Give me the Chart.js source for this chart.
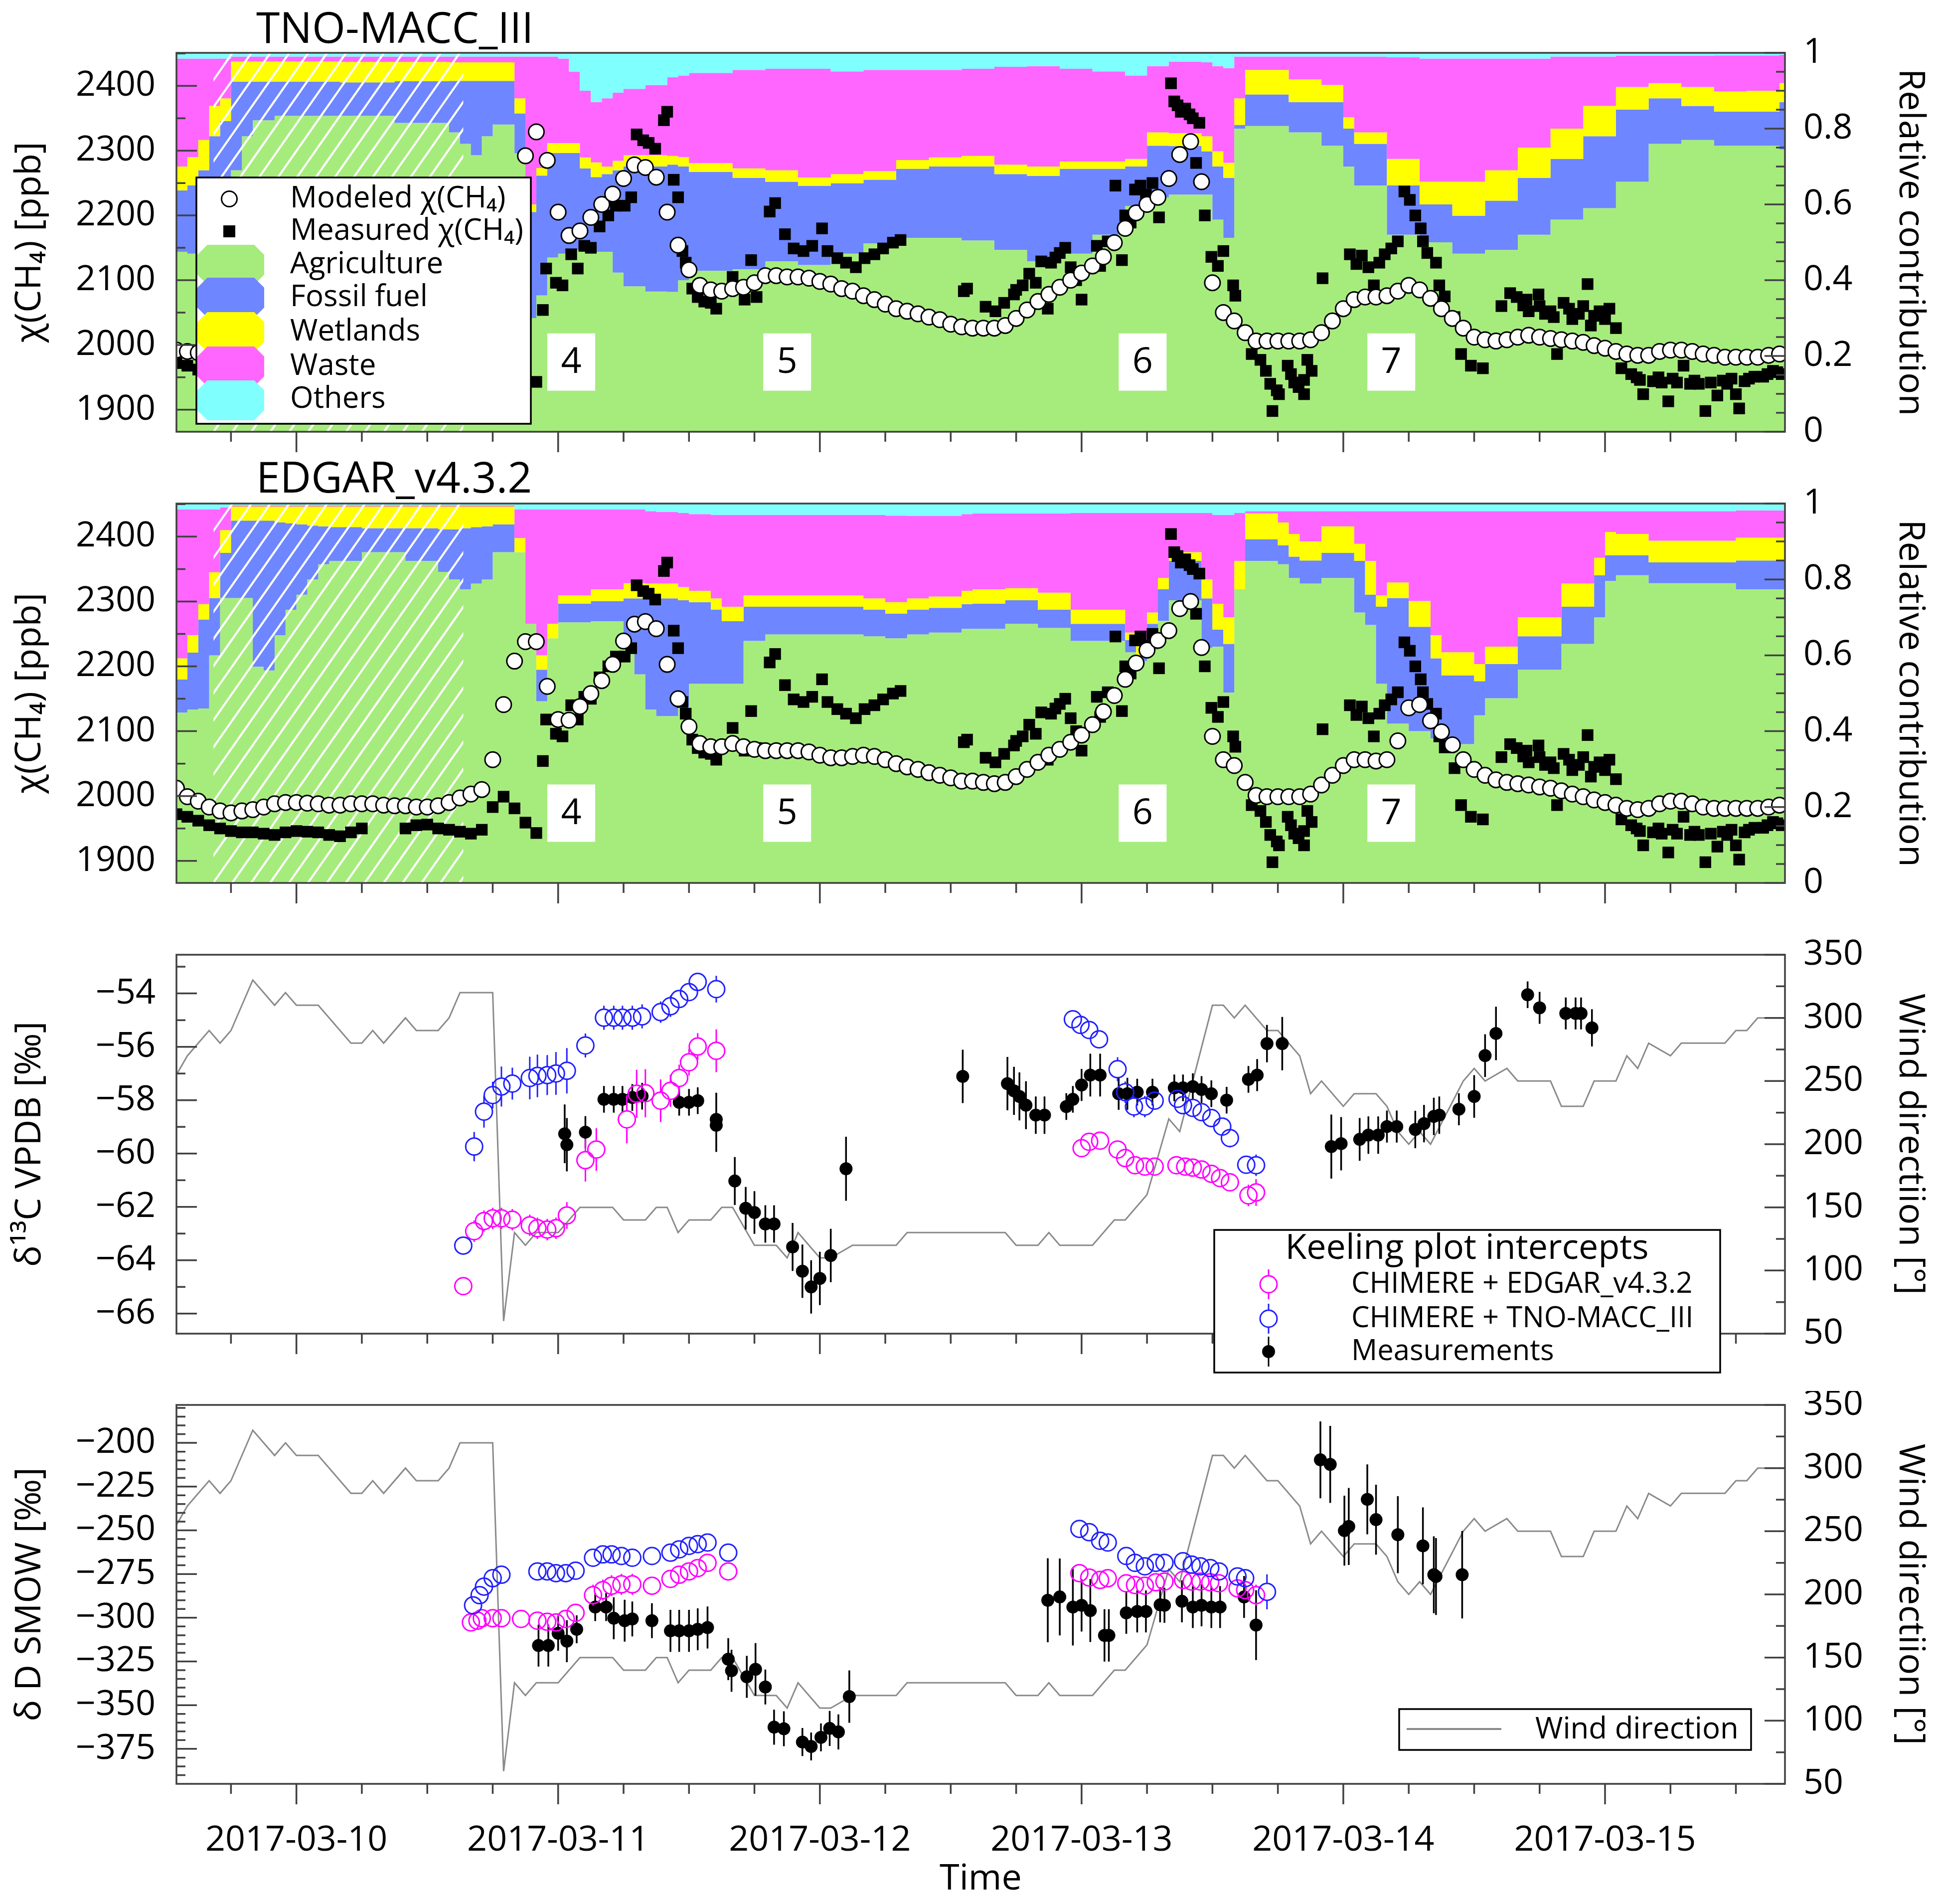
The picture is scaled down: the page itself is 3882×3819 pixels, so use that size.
<!DOCTYPE html>
<html><head><meta charset="utf-8">
<script src="https://cdn.jsdelivr.net/npm/chart.js@4.4.1/dist/chart.umd.min.js"></script>
<style>
html,body{margin:0;padding:0;background:#fff;}
body{width:3882px;height:3819px;position:relative;overflow:hidden;}
canvas{position:absolute;left:0;}
</style></head><body>
<canvas id="c1"></canvas><canvas id="c2"></canvas><canvas id="c3"></canvas><canvas id="c4"></canvas>
<script>
// ================= DATA (hours since 2017-03-10 00:00) =================
const dateLabels = ['2017-03-10','2017-03-11','2017-03-12','2017-03-13','2017-03-14','2017-03-15'];
const dateHours  = [0,24,48,72,96,120];
const timeRange  = [-11, 136.5];
const gapHours   = [-7.6, 15.3];           // hatched period (no isotope data)
const periodLabels = ['4','5','6','7'];
const periodHours  = [25.2, 45.0, 77.6, 100.4];
const periodLabelCH4 = 1974;

// --- measured χ(CH4) [ppb] (same in both top panels)
const measHours = [-11,-10,-9,-8,-7,-6,-5,-4,-3,-2,-1,0,1,2,3,4,5,6,10,11,12,13,14,15,16,17,18,19,20,21,22,
 22.6,22.9,23.8,24.4,25.2,25.8,26.4,27.0,27.8,28.6,29.3,30.1,30.7,31.2,31.8,32.3,32.9,33.7,34.0,34.6,35.0,35.4,35.7,36.3,36.8,37.4,38.0,38.5,40.0,41.1,41.7,42.2,43.4,43.9,44.8,45.6,46.5,47.3,48.2,48.7,49.6,50.4,51.3,52.1,53.0,53.8,54.7,55.4,61.2,
 61.5,63.2,64.1,64.9,65.8,66.0,66.6,67.2,67.8,68.3,68.9,69.2,69.6,70.0,70.5,71.0,71.5,72.0,73.4,73.7,74.4,75.1,75.7,76.0,76.5,76.9,77.4,77.9,78.5,79.1,
 80.2,80.5,80.8,81.1,81.5,81.9,82.2,82.5,82.8,83.3,83.9,84.5,85.0,85.9,86.1,87.6,88.4,88.9,89.3,89.5,89.9,90.1,90.9,91.2,91.5,91.9,92.4,92.4,92.7,93.1,94.1,
 96.6,97.2,97.7,98.3,98.8,99.3,99.8,100.4,101.0,101.6,102.1,102.6,103.1,103.3,103.7,104.5,104.8,105.3,106.2,106.8,107.7,108.8,
 110.5,111.3,111.9,112.5,112.8,113.0,113.9,114.0,114.5,115.0,115.3,115.6,116.2,116.7,117.0,117.6,118.0,118.4,118.7,119.0,119.5,120.0,120.4,121.0,121.5,
 122.4,122.9,123.2,123.5,124.4,124.9,125.2,125.8,126.2,126.6,127.2,127.8,128.2,128.6,129.2,129.7,130.3,130.8,131.2,131.6,132.0,132.3,132.8,133.2,133.7,134.5,134.9,135.4,135.8,136.2];
const measCH4 = [1972,1968,1962,1955,1950,1946,1944,1944,1942,1940,1944,1946,1945,1944,1940,1938,1944,1950,1950,1955,1956,1950,1948,1945,1942,1948,1983,1999,1981,1959,1943,
 2054,2118,2096,2092,2140,2118,2153,2150,2183,2200,2215,2215,2228,2325,2316,2312,2303,2347,2360,2255,2228,2145,2127,2087,2074,2067,2065,2056,2105,2070,2131,2074,2206,2219,2171,2149,2145,2153,2180,2145,2134,2127,2120,2134,2140,2149,2158,2162,2083,
 2087,2059,2052,2065,2078,2085,2092,2110,2096,2129,2056,2127,2135,2142,2150,2120,2100,2070,2153,2122,2160,2246,2131,2200,2189,2240,2246,2232,2250,2197,
 2404,2376,2370,2360,2365,2356,2350,2281,2343,2200,2136,2122,2145,2092,2076,1986,1977,1960,1940,1898,1930,1924,1968,1955,1942,1935,1946,1924,1977,1960,2103,
 2140,2125,2138,2120,2092,2127,2140,2149,2160,2237,2224,2200,2180,2160,2142,2127,2092,2075,2043,1986,1968,1964,
 2060,2080,2074,2061,2070,2052,2078,2060,2048,2052,2043,1986,2065,2056,2040,2048,2060,2094,2030,2045,2052,2040,2056,2026,1964,
 1955,1950,1946,1924,1944,1950,1942,1913,1948,1942,1968,1940,1945,1940,1898,1942,1922,1945,1940,1948,1924,1902,1944,1948,1951,1951,1955,1960,1958,1955];

// --- modeled χ(CH4), CHIMERE + TNO-MACC_III [ppb]
const tnoModelHours = [-11,-10,-9,21,22,23,24,25,26,27,28,29,30,31,32,33,34,35,36,37,38,39,40,41,42,43,44,45,46,47,48,49,50,51,52,53,54,55,56,57,58,59,60,
 61,62,63,64,65,66,67,68,69,70,71,72,73,74,75,76,77,78,79,80,81,82,83,84,85,86,87,88,89,90,91,92,93,94,95,96,97,98,99,100,
 101,102,103,104,105,106,107,108,109,110,111,112,113,114,115,116,117,118,119,120,121,122,123,124,125,126,127,128,129,130,131,132,133,134,135,136];
const tnoModelCH4 = [1992,1990,1988,2292,2329,2285,2205,2169,2176,2197,2217,2233,2257,2278,2274,2259,2205,2154,2116,2092,2085,2083,2087,2089,2096,2107,2107,2105,2105,2103,2098,2094,2087,2083,2076,2070,2063,2056,2052,2048,2043,2039,2032,
 2028,2026,2026,2026,2030,2041,2054,2067,2078,2089,2100,2111,2122,2136,2158,2180,2204,2217,2228,2257,2294,2314,2252,2096,2050,2037,2019,2006,2006,2006,2006,2006,2008,2019,2037,2056,2070,2074,2074,2076,
 2083,2092,2085,2072,2056,2041,2026,2012,2008,2006,2008,2012,2015,2012,2010,2008,2006,2004,1999,1995,1990,1986,1984,1984,1990,1992,1992,1990,1986,1984,1981,1981,1981,1981,1984,1986];

// --- modeled χ(CH4), CHIMERE + EDGAR_v4.3.2 [ppb]
const edgarModelHours = [-11,-10,-9,-8,-7,-6,-5,-4,-3,-2,-1,0,1,2,3,4,5,6,7,8,9,10,11,12,13,14,15,16,17,18,19,20,21,22,23,24,25,26,27,28,29,30,
 31,32,33,34,35,36,37,38,39,40,41,42,43,44,45,46,47,48,49,50,51,52,53,54,55,56,57,58,59,60,61,62,63,64,65,66,67,68,69,70,
 71,72,73,74,75,76,77,78,79,80,81,82,83,84,85,86,87,88,89,90,91,92,93,94,95,96,97,98,99,100,101,102,103,104,105,106,107,108,109,110,
 111,112,113,114,115,116,117,118,119,120,121,122,123,124,125,126,127,128,129,130,131,132,133,134,135,136];
const edgarModelCH4 = [2012,1999,1992,1983,1977,1974,1977,1979,1983,1988,1990,1990,1989,1988,1986,1986,1988,1988,1988,1986,1985,1985,1983,1983,1985,1990,1997,2003,2010,2056,2141,2208,2238,2238,2169,2118,2117,2138,2158,2178,2203,2239,
 2265,2269,2258,2203,2150,2107,2081,2076,2076,2081,2076,2072,2070,2070,2070,2070,2068,2063,2059,2059,2061,2063,2061,2056,2050,2045,2041,2036,2032,2028,2023,2023,2021,2019,2021,2030,2041,2052,2063,2072,
 2083,2094,2110,2130,2155,2180,2205,2225,2240,2255,2289,2300,2229,2092,2056,2047,2021,2001,1999,1999,1999,1999,2003,2017,2032,2047,2056,2056,2054,2056,2085,2136,2141,2116,2099,2079,2056,2041,2032,2025,
 2021,2019,2017,2014,2012,2008,2003,1999,1994,1990,1986,1981,1979,1981,1988,1992,1992,1988,1983,1981,1981,1981,1981,1981,1983,1986];

// --- relative contributions (cumulative stack tops), CHIMERE + TNO-MACC_III
const tnoAreaHours = [-11,-10,-9,-8,-7,-6,-5,-4,-2, 4,9,14,15,16,17,18, 20,21,22,23,24,25,26,27,28,29,30,32, 34,35,36,40,43,46,49,52,55,58,61, 64,67,70,73,76,78,80,83,84,85,86,87, 91,94,96,97,100,103,106,109,112,115,118,121,124,127,130,133,136,137];
const tnoCumAgri   = [.475,.470,.470,.500,.600,.690,.780,.822,.834, .834,.815,.790,.760,.730,.780,.811, .735,.300,.360,.460,.470,.480,.475,.475,.475,.420,.384,.370, .369,.400,.425,.429,.450,.440,.470,.497,.512,.512,.505, .480,.450,.470,.520,.596,.618,.626,.626,.560,.512,.800,.807, .790,.755,.700,.650,.520,.500,.470,.480,.520,.560,.590,.660,.760,.770,.755,.755,.745,.745];
const tnoCumFossil = [.637,.650,.690,.780,.820,.924,.924,.924,.924, .922,.925,.926,.926,.926,.926,.926, .840,.580,.676,.736,.736,.736,.695,.672,.680,.690,.700,.700, .705,.700,.686,.670,.660,.649,.656,.665,.694,.700,.700, .680,.675,.694,.694,.700,.755,.754,.740,.700,.670,.810,.890, .870,.870,.800,.760,.650,.600,.570,.610,.670,.720,.780,.850,.880,.860,.845,.845,.870,.870];
const tnoCumWet    = [.700,.725,.770,.860,.880,.977,.977,.977,.977, .976,.976,.975,.975,.975,.975,.975, .880,.600,.696,.762,.762,.762,.724,.711,.700,.715,.730,.730, .728,.725,.709,.695,.690,.671,.680,.688,.717,.724,.728, .705,.700,.713,.713,.720,.790,.788,.780,.740,.710,.880,.955, .930,.915,.830,.790,.720,.660,.660,.690,.750,.800,.860,.910,.920,.910,.898,.900,.920,.920];
const tnoCumWaste  = [.985,.985,.985,.985,.985,.990,.990,.990,.990, .990,.990,.990,.990,.990,.990,.990, .990,.990,.990,.990,.985,.950,.900,.870,.880,.895,.905,.915, .936,.940,.947,.955,.958,.958,.951,.955,.955,.955,.958, .963,.965,.958,.951,.940,.965,.977,.975,.965,.960,.990,.990, .990,.990,.990,.990,.988,.985,.985,.985,.985,.990,.990,.992,.992,.992,.993,.993,.995,.995];

// --- relative contributions (cumulative stack tops), CHIMERE + EDGAR_v4.3.2
const edgarAreaHours = [-11,-10,-9,-8,-7,-6,-4,-3,-2,-1, 0,1,2,3,6,10,13,14,15,16, 17,18,20,21,22,23,24,27,30,31, 32,33,35,36,38,39,41,43,52,54, 56,58,61,62,65,68,71,76,77,78, 79,80,83,84,85,86,87,90,91,92, 94,97,98,99,100,102,104,105,108,109, 112,116,119,120,121,124,132,137];
const edgarCumAgri   = [.449,.457,.460,.600,.751,.751,.570,.560,.653,.720, .760,.800,.840,.849,.872,.849,.820,.800,.774,.789, .800,.872,.872,.683,.479,.645,.687,.690,.620,.550, .457,.440,.464,.525,.525,.525,.638,.655,.650,.645, .655,.660,.670,.670,.683,.672,.638,.608,.585,.615, .691,.745,.620,.623,.502,.774,.849,.840,.804,.789, .804,.713,.680,.525,.420,.400,.381,.366,.442,.487, .562,.630,.700,.796,.811,.790,.774,.774];
const edgarCumFossil = [.536,.607,.694,.751,.870,.955,.955,.955,.950,.948, .945,.942,.940,.938,.935,.935,.932,.932,.935,.938, .940,.945,.872,.683,.562,.645,.736,.743,.750,.750, .750,.750,.745,.740,.720,.690,.728,.728,.720,.710, .720,.725,.735,.736,.745,.720,.683,.640,.600,.683, .774,.849,.750,.668,.630,.774,.906,.890,.860,.850, .870,.849,.760,.728,.751,.675,.592,.547,.532,.577, .650,.728,.811,.864,.864,.845,.850,.850];
const edgarCumWet    = [.592,.653,.735,.819,.930,.992,.992,.992,.992,.992, .992,.992,.992,.992,.992,.992,.992,.992,.992,.992, .992,.992,.909,.683,.600,.683,.758,.774,.790,.790, .789,.789,.780,.770,.750,.728,.758,.758,.750,.740, .750,.755,.770,.774,.777,.765,.720,.660,.640,.713, .804,.872,.800,.736,.700,.849,.974,.950,.920,.900, .940,.894,.849,.758,.792,.743,.653,.608,.577,.623, .700,.789,.857,.925,.920,.902,.910,.910];
const edgarCumWaste  = [.985,.985,.985,.985,.990,.995,.995,.995,.995,.995, .995,.995,.995,.995,.995,.995,.995,.995,.995,.995, .995,.995,.985,.985,.985,.985,.985,.985,.985,.985, .980,.978,.975,.972,.970,.970,.970,.970,.970,.968, .967,.967,.972,.974,.974,.974,.975,.975,.975,.975, .975,.975,.975,.970,.970,.975,.980,.980,.980,.980, .980,.980,.980,.980,.980,.980,.980,.980,.980,.980, .980,.980,.980,.980,.980,.980,.982,.982];

// --- wind direction [°]
const windHours = [-11,-10,-9,-8,-7,-6,-4,-2,-1,0,2,5,6,7,8,10,11,13,14,15,18,19,20,21,22,24,25,26,29,30,32,33,34,35,36,38,39,40,42,44,45,46,47,48,49,51,55,56,65,66,68,69,70,73,75,76,78,80,81,84,85,86,87,89,90,92,93,94,96,97,99,100,101,102,103,104,107,108,109,111,112,115,116,118,119,121,122,123,124,126,127,131,132,133,134,136.5];
const windDir   = [255,270,280,290,280,290,330,310,320,310,310,280,280,290,280,300,290,290,300,320,320,60,130,120,130,130,140,150,150,140,140,150,150,130,140,140,150,150,120,120,110,130,120,110,110,120,120,130,130,120,120,130,120,120,140,140,160,220,210,310,310,300,310,290,290,270,240,250,230,240,240,230,210,200,210,200,250,260,250,260,250,250,230,230,250,250,270,260,280,270,280,280,290,290,300,300];

// --- δ13C Keeling plot intercepts [‰ VPDB]
const d13TnoHours = [15.3,16.3,17.2,18.0,18.8,19.8,21.4,22.1,23.0,23.8,24.8,26.5,28.2,29.1,29.9,30.8,31.7,33.4,34.3,35.1,36.0,36.8,38.5, 71.2,71.9,72.7,73.6,75.3,76.0,76.8,77.8,78.7,80.8,81.3,82.2,83.0,83.9,84.9,85.6,87.1,88.0];
const d13Tno      = [-63.45,-59.74,-58.43,-57.81,-57.49,-57.38,-57.17,-57.09,-57.06,-57.0,-56.9,-55.95,-54.91,-54.91,-54.91,-54.91,-54.86,-54.70,-54.48,-54.21,-53.95,-53.57,-53.84, -54.97,-55.18,-55.37,-55.72,-56.84,-57.70,-58.24,-58.24,-58.02,-57.95,-58.19,-58.29,-58.45,-58.67,-58.99,-59.42,-60.42,-60.44];
const d13TnoErr   = [0.3,0.55,0.6,0.5,0.75,0.6,0.8,0.8,0.75,0.8,0.85,0.45,0.45,0.45,0.45,0.45,0.45,0.4,0.4,0.3,0.3,0.25,0.5, 0.3,0.3,0.3,0.3,0.45,0.4,0.4,0.4,0.3,0.3,0.3,0.3,0.3,0.3,0.3,0.35,0.3,0.4];
const d13EdgarHours = [15.3,16.3,17.2,18.0,18.8,19.8,21.4,22.1,23.0,23.8,24.8,26.5,27.5,30.3,31.2,32.0,33.4,34.3,35.1,36.0,36.8,38.5, 72.0,72.7,73.7,75.3,76.0,76.9,77.8,78.7,80.7,81.5,82.2,83.0,83.9,84.7,85.6,87.3,88.0];
const d13Edgar      = [-64.97,-62.91,-62.53,-62.43,-62.43,-62.48,-62.69,-62.80,-62.85,-62.80,-62.32,-60.25,-59.85,-58.72,-57.76,-57.74,-58.02,-57.65,-57.17,-56.58,-55.99,-56.15, -59.80,-59.56,-59.52,-59.85,-60.17,-60.44,-60.49,-60.49,-60.44,-60.49,-60.53,-60.60,-60.76,-60.92,-61.08,-61.57,-61.46];
const d13EdgarErr   = [0,0.4,0.4,0.4,0.4,0.4,0.4,0.4,0.4,0.4,0.5,0.8,0.8,0.9,0.9,0.9,0.8,0.6,0.5,0.5,0.5,0.8, 0.3,0.3,0.3,0.3,0.3,0.3,0.3,0.3,0.3,0.3,0.3,0.3,0.3,0.3,0.3,0.4,0.5];
const d13MeasHours = [24.6,24.8,26.5,28.2,29.1,29.9,30.8,31.7,35.1,36.0,36.8,38.5,38.5,40.2,41.2,42.0,43.0,43.8,45.5,46.4,47.2,48.0,49.0,50.4,61.1,
 65.2,65.8,66.3,66.9,67.8,68.6,70.6,71.2,72.0,72.8,73.7,75.4,76.2,77.1,78.5,80.5,81.3,82.2,83.0,83.9,85.3,87.3,88.1,89.0,90.4,
 94.9,95.8,97.5,98.3,99.2,100.0,100.9,102.6,103.4,104.3,104.8,106.6,108.0,109.0,110.0,112.9,114.0,116.4,117.3,117.8,118.8];
const d13Meas = [-59.26,-59.67,-59.2,-57.97,-57.97,-57.97,-57.9,-57.85,-58.08,-58.08,-58.02,-58.72,-58.94,-61.03,-62.05,-62.21,-62.64,-62.64,-63.5,-64.41,-65.0,-64.68,-63.82,-60.57,-57.11,
 -57.38,-57.65,-57.86,-58.19,-58.56,-58.56,-58.24,-57.97,-57.43,-57.06,-57.06,-57.76,-57.76,-57.70,-57.70,-57.54,-57.54,-57.49,-57.6,-57.76,-58.0,-57.22,-57.06,-55.88,-55.88,
 -59.74,-59.63,-59.47,-59.31,-59.31,-58.99,-58.99,-59.1,-58.88,-58.61,-58.56,-58.34,-57.86,-56.33,-55.50,-54.05,-54.54,-54.75,-54.75,-54.75,-55.29];
const d13MeasErr = [1.1,1.0,0.6,0.5,0.5,0.5,0.5,0.5,0.5,0.5,0.5,1.0,1.0,0.9,0.8,0.8,0.7,0.7,0.9,1.0,1.0,1.0,1.0,1.2,1.0,
 1.0,0.9,0.9,0.9,0.7,0.7,0.5,0.5,0.6,0.8,0.8,0.6,0.6,0.5,0.5,0.5,0.5,0.5,0.5,0.5,0.5,0.5,0.6,0.7,1.0,
 1.2,1.0,0.8,0.7,0.7,0.6,0.6,0.7,0.7,0.7,0.7,0.6,0.8,0.8,1.0,0.5,0.6,0.6,0.6,0.6,0.7];

// --- δD Keeling plot intercepts [‰ SMOW]
const dDTnoHours = [16.2,16.8,17.2,18.0,18.8,22.1,23.0,23.8,24.7,25.6,27.2,28.1,28.9,29.8,30.8,32.6,34.3,35.1,36.0,36.8,37.7,39.6, 71.8,72.7,73.7,74.4,76.1,76.9,77.8,78.8,79.6,81.3,82.1,82.9,83.8,84.6,86.3,87.0,89.0];
const dDTno      = [-292.9,-287.1,-282.2,-277.4,-275.4,-273.5,-273.5,-274.5,-274.5,-273.1,-265.7,-263.8,-263.8,-264.7,-265.7,-264.7,-262.8,-260.9,-258.9,-257.9,-257.0,-262.8, -249.2,-251.1,-256.0,-257.0,-264.7,-268.6,-270.6,-268.6,-268.6,-267.7,-269.6,-270.6,-271.6,-273.5,-276.4,-277.4,-285.2];
const dDTnoErr   = [2,2,2,2,2,2,2,2,2,2,2,2,2,2,2,2,2,2,2,2,2,3, 2,2,2,2,2,2,2,2,2,2,2,2,2,2,2,3,10];
const dDEdgarHours = [16.0,16.6,17.0,18.0,18.8,20.6,22.1,23.0,23.8,24.7,25.6,27.2,28.1,28.9,29.8,30.8,32.6,34.3,35.1,36.0,36.8,37.7,39.6, 71.8,72.7,73.7,74.4,76.1,76.9,77.8,78.8,79.6,81.3,82.1,82.9,83.8,84.6,86.3,87.0,88.0];
const dDEdgar      = [-302.7,-301.7,-300.3,-300.3,-300.3,-300.7,-301.7,-302.3,-302.7,-300.7,-297.2,-287.1,-284.2,-281.7,-280.9,-280.9,-281.7,-277.8,-275.4,-273.5,-271.6,-268.6,-273.5, -274.5,-277.0,-278.4,-277.4,-280.3,-281.3,-281.7,-279.7,-279.3,-278.4,-279.3,-279.3,-279.7,-280.3,-283.2,-284.2,-287.1];
const dDEdgarErr   = [3,3,3,3,3,3,3,3,3,3,4,6,6,6,6,6,5,4,4,4,4,4,4, 4,4,4,4,4,4,4,4,4,4,4,4,4,4,4,5,6];
const dDMeasHours = [22.2,23.1,24.0,24.8,25.7,27.4,28.4,29.1,30.1,30.8,32.6,34.3,35.1,36.0,36.8,37.7,39.6,39.9,41.3,42.1,43.0,43.8,44.7,46.4,47.2,48.1,48.9,49.7,50.7,
 68.9,70.0,71.2,72.0,72.8,74.1,74.5,76.1,77.1,77.9,79.2,79.6,81.2,82.2,83.0,83.9,84.7,86.9,88.0,93.9,94.8,96.1,96.5,98.2,99.0,101.0,103.3,104.3,104.5,106.9];
const dDMeas = [-315.9,-315.9,-308.9,-313.4,-306.6,-293.9,-293.9,-300.3,-301.7,-300.7,-301.7,-307.5,-307.5,-307.5,-306.6,-305.6,-323.7,-330.3,-333.8,-329.5,-339.6,-362.6,-363.5,-371.1,-373.6,-368.4,-363.3,-365.3,-345.1,
 -290.0,-288.1,-293.9,-292.9,-295.9,-310.1,-310.1,-297.2,-296.4,-296.4,-292.6,-292.9,-290.6,-293.9,-292.9,-293.9,-293.9,-288.1,-304.2,-209.7,-212.3,-250.2,-247.8,-232.3,-243.9,-252.5,-258.9,-275.4,-276.4,-275.4];
const dDMeasErr = [12,12,10,12,8,8,8,12,12,10,10,12,12,12,12,12,12,12,12,15,10,10,10,8,8,8,10,10,15,
 24,22,22,15,18,15,15,12,12,12,10,10,12,12,12,12,12,12,20,22,22,20,22,20,20,22,22,22,22,25];

// --- axis tick values
const ch4Ticks = [1900,2000,2100,2200,2300,2400];
const fracTicks = [0,0.2,0.4,0.6,0.8,1];
const d13Ticks = [-66,-64,-62,-60,-58,-56,-54];
const windTicks = [50,100,150,200,250,300,350];
const dDTicks = [-375,-350,-325,-300,-275,-250,-225,-200];

// ================= RENDERING =================
const FONT = "'Open Sans','Noto Sans','DejaVu Sans',sans-serif";
const AX = '#404040';
const COL = {agri:'#a6ec7c', fossil:'#6e86ff', wet:'#ffff00', waste:'#ff66ff', others:'#80ffff'};
const W = 3882;
const pts = (xs, ys) => xs.map((x, i) => ({x, y: ys[i]}));
const fmtMinus = v => v < 0 ? '\u2212' + (-v) : String(v);
const xMinorTicks = [];
for (let h = -6; h <= 132; h += 6) if (!dateHours.includes(h)) xMinorTicks.push(h);
const minorBetween = (lo, hi, step, majors) => { const a = []; for (let v = lo; v <= hi + 1e-9; v += step) { const r = Math.round(v * 1000) / 1000; if (!majors.some(m => Math.abs(m - r) < 1e-6)) a.push(r); } return a; };

function xAxis(height, show) {
  return {
    type: 'linear', position: 'bottom', min: timeRange[0], max: timeRange[1], bounds: 'data',
    grid: {display: false, drawTicks: false}, border: {display: false},
    afterBuildTicks(s) { s.ticks = dateHours.map(v => ({value: v})); },
    afterFit(s) { s.height = height; s.paddingLeft = 0; s.paddingRight = 0; },
    ticks: {display: show, autoSkip: false, maxRotation: 0, minRotation: 0, padding: 72, color: '#000',
      font: {family: FONT, size: 70},
      callback(v) { const i = dateHours.indexOf(v); return i >= 0 ? dateLabels[i] : ''; }},
    title: {display: show, text: 'Time', color: '#000', font: {family: FONT, size: 72}, padding: {top: 0, bottom: 6}}
  };
}
function yAxis(pos, min, max, labels, fmt, title, width, titlePad) {
  return {
    type: 'linear', position: pos, min, max, bounds: 'data', grace: 0,
    grid: {display: false, drawTicks: false}, border: {display: false},
    afterBuildTicks(s) { s.ticks = labels.map(v => ({value: v})); },
    afterFit(s) { s.width = width; s.paddingTop = 0; s.paddingBottom = 0; },
    ticks: {autoSkip: false, padding: pos === 'left' ? 42 : 37, color: '#000', font: {family: FONT, size: 70}, callback: v => fmt(v)},
    title: {display: true, text: title, color: '#000', font: {family: FONT, size: 72}, padding: {top: titlePad, bottom: 0}}
  };
}

function drawErrorBars(chart, meta, ds) {
  const ctx = chart.ctx, ys = chart.scales[ds.yAxisID || 'y'], a = chart.chartArea;
  const r = ds.openMarker ? ds.pointRadius : 0;
  ctx.save();
  ctx.beginPath(); ctx.rect(a.left, a.top, a.right - a.left, a.bottom - a.top); ctx.clip();
  ctx.strokeStyle = ds.errorColor; ctx.lineWidth = ds.errorWidth; ctx.beginPath();
  meta.data.forEach((el, i) => {
    const e = ds.errors[i]; if (!e) return;
    const v = ds.data[i].y;
    const yT = ys.getPixelForValue(v + e), yB = ys.getPixelForValue(v - e);
    if (r > 0) {
      if (el.y - r > yT) { ctx.moveTo(el.x, yT); ctx.lineTo(el.x, el.y - r); }
      if (yB > el.y + r) { ctx.moveTo(el.x, el.y + r); ctx.lineTo(el.x, yB); }
    } else { ctx.moveTo(el.x, yT); ctx.lineTo(el.x, yB); }
  });
  ctx.stroke(); ctx.restore();
}
function drawTicks(chart, t) {
  const ctx = chart.ctx, {left, right, bottom} = chart.chartArea;
  const xs = chart.scales.x, ys = chart.scales.y, y2 = chart.scales.y2;
  ctx.save(); ctx.strokeStyle = AX; ctx.lineWidth = 3.5; ctx.beginPath();
  dateHours.forEach(v => { const p = xs.getPixelForValue(v); ctx.moveTo(p, bottom); ctx.lineTo(p, bottom + 41); });
  xMinorTicks.forEach(v => { const p = xs.getPixelForValue(v); ctx.moveTo(p, bottom); ctx.lineTo(p, bottom + 20); });
  t.yMajor.forEach(v => { const p = ys.getPixelForValue(v); ctx.moveTo(left, p); ctx.lineTo(left + 41, p); });
  t.yMinor.forEach(v => { const p = ys.getPixelForValue(v); ctx.moveTo(left, p); ctx.lineTo(left + 18, p); });
  t.y2Major.forEach(v => { const p = y2.getPixelForValue(v); ctx.moveTo(right, p); ctx.lineTo(right - 41, p); });
  t.y2Minor.forEach(v => { const p = y2.getPixelForValue(v); ctx.moveTo(right, p); ctx.lineTo(right - 18, p); });
  ctx.stroke();
  const a = chart.chartArea;
  ctx.strokeRect(a.left, a.top, a.right - a.left, a.bottom - a.top);
  ctx.restore();
}
function makeDecor(spec) {
  return {
    id: 'decor',
    beforeDatasetDraw(chart, args) { const ds = chart.data.datasets[args.index]; if (ds.errors) drawErrorBars(chart, args.meta, ds); },
    afterDatasetDraw(chart, args) { const ds = chart.data.datasets[args.index]; if (ds.isArea === 'Others' && spec.afterAreas) spec.afterAreas(chart); },
    afterDraw(chart) { drawTicks(chart, spec.ticks); if (spec.overlay) spec.overlay(chart); }
  };
}
function hatchAndBoxes(chart) {
  const ctx = chart.ctx, {top, bottom} = chart.chartArea, xs = chart.scales.x, ys = chart.scales.y;
  const x0 = xs.getPixelForValue(gapHours[0]), x1 = xs.getPixelForValue(gapHours[1]);
  ctx.save(); ctx.beginPath(); ctx.rect(x0, top, x1 - x0, bottom - top); ctx.clip();
  ctx.strokeStyle = '#fff'; ctx.lineWidth = 4.2; ctx.beginPath();
  const h = bottom - top, dx = h * 0.7;
  for (let x = x0 - dx; x < x1 + 40; x += 38) { ctx.moveTo(x, bottom); ctx.lineTo(x + dx, top); }
  ctx.stroke(); ctx.restore();
  ctx.save(); ctx.font = `72px ${FONT}`; ctx.textAlign = 'center'; ctx.textBaseline = 'middle';
  periodHours.forEach((hh, i) => {
    const cx = xs.getPixelForValue(hh), cy = ys.getPixelForValue(periodLabelCH4);
    ctx.fillStyle = '#fff'; ctx.fillRect(cx - 48, cy - 57, 96, 115);
    ctx.fillStyle = '#000'; ctx.fillText(periodLabels[i], cx, cy + 2);
  });
  ctx.restore();
}
function octagon(ctx, cx, cy, w, h, c) {
  const x0 = cx - w / 2, x1 = cx + w / 2, y0 = cy - h / 2, y1 = cy + h / 2;
  ctx.beginPath(); ctx.moveTo(x0 + c, y0); ctx.lineTo(x1 - c, y0); ctx.lineTo(x1, y0 + c); ctx.lineTo(x1, y1 - c);
  ctx.lineTo(x1 - c, y1); ctx.lineTo(x0 + c, y1); ctx.lineTo(x0, y1 - c); ctx.lineTo(x0, y0 + c); ctx.closePath(); ctx.fill();
}
function panelTitle(ctx, text, y) {
  ctx.save(); ctx.font = `86px ${FONT}`; ctx.fillStyle = '#000'; ctx.textAlign = 'left'; ctx.textBaseline = 'alphabetic';
  ctx.fillText(text, 514, y); ctx.restore();
}
function legendCH4(chart) {
  const ctx = chart.ctx;
  panelTitle(ctx, 'TNO-MACC_III', 86);
  ctx.save();
  ctx.fillStyle = '#fff'; ctx.fillRect(394, 356, 671, 494);
  ctx.strokeStyle = '#000'; ctx.lineWidth = 3.5; ctx.strokeRect(394, 356, 671, 494);
  ctx.beginPath(); ctx.arc(460, 399, 15.5, 0, 2 * Math.PI); ctx.fillStyle = '#fff'; ctx.fill(); ctx.lineWidth = 3; ctx.stroke();
  ctx.fillStyle = '#000'; ctx.fillRect(448, 452, 24, 24);
  const rows = [531, 597, 666, 735, 803], cols = [COL.agri, COL.fossil, COL.wet, COL.waste, COL.others];
  rows.forEach((y, i) => { ctx.fillStyle = cols[i]; octagon(ctx, 463, y, 134, 80, 20); });
  const labels = ['Modeled \u03c7(CH\u2084)', 'Measured \u03c7(CH\u2084)', 'Agriculture', 'Fossil fuel', 'Wetlands', 'Waste', 'Others'];
  const ly = [399, 464, 531, 597, 666, 735, 801];
  ctx.fillStyle = '#000'; ctx.font = `60px ${FONT}`; ctx.textAlign = 'left'; ctx.textBaseline = 'middle';
  labels.forEach((t, i) => ctx.fillText(t, 582, ly[i]));
  ctx.restore();
}
function legendKeeling(chart) {
  const ctx = chart.ctx, oy = 1862;
  ctx.save();
  ctx.fillStyle = '#fff'; ctx.fillRect(2436, 2467 - oy, 1015, 286);
  ctx.strokeStyle = '#000'; ctx.lineWidth = 3.5; ctx.strokeRect(2436, 2467 - oy, 1015, 286);
  ctx.fillStyle = '#000'; ctx.font = `70px ${FONT}`; ctx.textAlign = 'center'; ctx.textBaseline = 'middle';
  ctx.fillText('Keeling plot intercepts', 2943, 2505 - oy);
  const rows = [2576, 2645, 2711].map(v => v - oy);
  const cols = ['#ff00ff', '#2020ff', '#000'];
  rows.forEach((y, i) => {
    ctx.strokeStyle = cols[i]; ctx.lineWidth = 3;
    ctx.beginPath(); ctx.moveTo(2545, y - 30); ctx.lineTo(2545, y + 30); ctx.stroke();
    if (i < 2) {
      ctx.beginPath(); ctx.arc(2545, y, 17, 0, 2 * Math.PI); ctx.fillStyle = '#fff'; ctx.fill(); ctx.stroke();
    } else { ctx.beginPath(); ctx.arc(2545, y, 13, 0, 2 * Math.PI); ctx.fillStyle = '#000'; ctx.fill(); }
  });
  ctx.fillStyle = '#000'; ctx.font = `58px ${FONT}`; ctx.textAlign = 'left';
  ['CHIMERE + EDGAR_v4.3.2', 'CHIMERE + TNO-MACC_III', 'Measurements'].forEach((t, i) => ctx.fillText(t, 2711, rows[i]));
  ctx.restore();
}
function legendWind(chart) {
  const ctx = chart.ctx, oy = 2790;
  ctx.save();
  ctx.fillStyle = '#fff'; ctx.fillRect(2807, 3428 - oy, 706, 82);
  ctx.strokeStyle = '#000'; ctx.lineWidth = 3.5; ctx.strokeRect(2807, 3428 - oy, 706, 82);
  ctx.strokeStyle = '#8a8a8a'; ctx.lineWidth = 4; ctx.beginPath(); ctx.moveTo(2822, 3468 - oy); ctx.lineTo(3012, 3468 - oy); ctx.stroke();
  ctx.fillStyle = '#000'; ctx.font = `60px ${FONT}`; ctx.textAlign = 'left'; ctx.textBaseline = 'middle';
  ctx.fillText('Wind direction', 3080, 3470 - oy);
  ctx.restore();
}

function areaDatasets(hours, cA, cF, cW, cWa) {
  const ones = hours.map(() => 1);
  const layers = [['Agriculture', cA, COL.agri, 'origin', 14], ['Fossil fuel', cF, COL.fossil, '-1', 13],
    ['Wetlands', cW, COL.wet, '-1', 12], ['Waste', cWa, COL.waste, '-1', 11], ['Others', ones, COL.others, '-1', 10]];
  return layers.map(([label, arr, col, fill, order]) => ({
    type: 'line', label, data: pts(hours, arr), yAxisID: 'y2', stepped: true, fill,
    backgroundColor: col, borderColor: 'rgba(0,0,0,0)', borderWidth: 0, pointRadius: 0, pointHoverRadius: 0,
    order, tension: 0, isArea: label
  }));
}
const measDataset = () => ({type: 'scatter', label: 'Measured \u03c7(CH\u2084)', data: pts(measHours, measCH4), yAxisID: 'y',
  pointStyle: 'rect', pointRadius: 16.5, backgroundColor: '#000', borderColor: '#000', borderWidth: 0, order: 1});
const modelDataset = (h, v) => ({type: 'scatter', label: 'Modeled \u03c7(CH\u2084)', data: pts(h, v), yAxisID: 'y',
  pointStyle: 'circle', pointRadius: 15.5, backgroundColor: '#fff', borderColor: '#000', borderWidth: 3, order: 0});
const windDataset = () => ({type: 'line', label: 'Wind direction', data: pts(windHours, windDir), yAxisID: 'y2',
  borderColor: '#8a8a8a', borderWidth: 3, pointRadius: 0, fill: false, tension: 0, order: 5});
const isoDataset = (label, h, v, e, color, open, order) => ({type: 'scatter', label, data: pts(h, v), yAxisID: 'y',
  pointStyle: 'circle', pointRadius: open ? 17 : 13, backgroundColor: open ? 'rgba(0,0,0,0)' : color, borderColor: color,
  borderWidth: open ? 3 : 0, order, errors: e, errorColor: color, errorWidth: open ? 3 : 3.5, openMarker: open});

const CAN = [
  {id: 'c1', top: 0, height: 912, plotTop: 106, plotBottom: 866},
  {id: 'c2', top: 912, height: 950, plotTop: 1010, plotBottom: 1771},
  {id: 'c3', top: 1862, height: 928, plotTop: 1915, plotBottom: 2675},
  {id: 'c4', top: 2790, height: 1029, plotTop: 2818, plotBottom: 3578}
];
const chTicks = {yMajor: ch4Ticks, yMinor: minorBetween(1950, 2450, 100, []), y2Major: fracTicks, y2Minor: minorBetween(0.05, 0.95, 0.05, fracTicks)};
const d13TickSet = {yMajor: d13Ticks, yMinor: [-65,-63,-61,-59,-57,-55,-53], y2Major: windTicks, y2Minor: [75,125,175,225,275,325]};
const dDTickSet = {yMajor: dDTicks, yMinor: minorBetween(-390, -180, 5, dDTicks), y2Major: windTicks, y2Minor: [75,125,175,225,275,325]};

function build(i, datasets, yL, yR, spec, showX) {
  const c = CAN[i], el = document.getElementById(c.id);
  el.width = W; el.height = c.height; el.style.top = c.top + 'px'; el.style.width = W + 'px'; el.style.height = c.height + 'px';
  return new Chart(el, {
    type: 'scatter',
    data: {datasets},
    options: {
      responsive: false, maintainAspectRatio: false, animation: false, devicePixelRatio: 1, events: [],
      layout: {padding: {top: c.plotTop - c.top, left: 0, right: 0, bottom: 0}},
      plugins: {legend: {display: false}, tooltip: {enabled: false}, title: {display: false}},
      scales: {x: xAxis(c.top + c.height - c.plotBottom, showX), y: yL, y2: yR}
    },
    plugins: [makeDecor(spec)]
  });
}

const ch4Left = () => yAxis('left', 1866, 2451, ch4Ticks, v => String(v), '\u03c7(CH\u2084) [ppb]', 354, 17);
const fracRight = () => yAxis('right', 0, 1, fracTicks, v => String(v), 'Relative contribution', 301, 7);
const windRight = () => yAxis('right', 50, 350, windTicks, v => String(v), 'Wind directiion [\u00b0]', 301, 7);

build(0, [modelDataset(tnoModelHours, tnoModelCH4), measDataset(), ...areaDatasets(tnoAreaHours, tnoCumAgri, tnoCumFossil, tnoCumWet, tnoCumWaste)],
  ch4Left(), fracRight(), {ticks: chTicks, afterAreas: hatchAndBoxes, overlay: legendCH4}, false);
build(1, [modelDataset(edgarModelHours, edgarModelCH4), measDataset(), ...areaDatasets(edgarAreaHours, edgarCumAgri, edgarCumFossil, edgarCumWet, edgarCumWaste)],
  ch4Left(), fracRight(), {ticks: chTicks, afterAreas: hatchAndBoxes, overlay: ch => panelTitle(ch.ctx, 'EDGAR_v4.3.2', 76)}, false);
build(2, [isoDataset('CHIMERE + TNO-MACC_III', d13TnoHours, d13Tno, d13TnoErr, '#2020ff', true, 0),
          isoDataset('CHIMERE + EDGAR_v4.3.2', d13EdgarHours, d13Edgar, d13EdgarErr, '#ff00ff', true, 1),
          isoDataset('Measurements', d13MeasHours, d13Meas, d13MeasErr, '#000', false, 2), windDataset()],
  yAxis('left', -66.75, -52.55, d13Ticks, fmtMinus, '\u03b4\u00b9\u00b3C VPDB [\u2030]', 354, 17), windRight(),
  {ticks: d13TickSet, overlay: legendKeeling}, false);
build(3, [isoDataset('CHIMERE + TNO-MACC_III', dDTnoHours, dDTno, dDTnoErr, '#2020ff', true, 0),
          isoDataset('CHIMERE + EDGAR_v4.3.2', dDEdgarHours, dDEdgar, dDEdgarErr, '#ff00ff', true, 1),
          isoDataset('Measurements', dDMeasHours, dDMeas, dDMeasErr, '#000', false, 2), windDataset()],
  yAxis('left', -395, -178.3, dDTicks, fmtMinus, '\u03b4 D SMOW [\u2030]', 354, 17), windRight(),
  {ticks: dDTickSet, overlay: legendWind}, true);
</script>
</body></html>
